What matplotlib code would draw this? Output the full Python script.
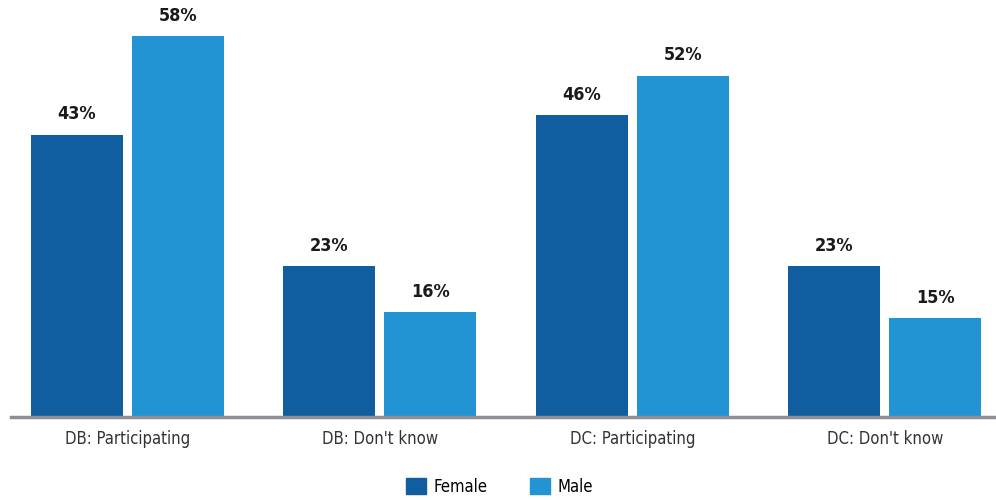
# plotting female vs male participation bars
import matplotlib.pyplot as plt; import numpy as np
from matplotlib.patches import Patch

# data
categories   = ["DB: Participating", "DB: Don't know", "DC: Participating", "DC: Don't know"]
female_vals  = [43, 23, 46, 23]
male_vals    = [58, 16, 52, 15]
series_names = ["Female", "Male"]

# styles
col_female = "#105DA0"
col_male   = "#2293D3"
plt.rcParams['font.family']  = ["DejaVu Sans"]
plt.rcParams['font.stretch'] = 'condensed'

fig = plt.figure(figsize=(9.96, 5.0), dpi=100)
ax  = fig.add_axes([0.011, 0.166, 0.989, 0.834])

x = np.arange(len(categories))
w = 0.364
b1 = ax.bar(x - 0.2, female_vals, w, color=col_female)
b2 = ax.bar(x + 0.2, male_vals,   w, color=col_male)

for bars, vals in ((b1, female_vals), (b2, male_vals)):
    for r, v in zip(bars, vals):
        ax.text(r.get_x() + r.get_width()/2, v + 1.7, f"{v}%",
                ha='center', va='bottom', fontsize=13, fontweight='bold',
                fontstretch='condensed', color='#1a1a1a')

ax.set_xlim(-0.46, 3.44)
ax.set_ylim(0, 63.5)
ax.set_xticks(x)
ax.set_xticklabels(categories, fontsize=12, color='#333333', fontstretch='condensed')
ax.tick_params(axis='x', length=0, pad=9)
ax.set_yticks([])
for s in ('top', 'right', 'left'):
    ax.spines[s].set_visible(False)
ax.spines['bottom'].set_color('#8C9096')
ax.spines['bottom'].set_linewidth(2.5)

handles = [Patch(color=col_female), Patch(color=col_male)]
fig.legend(handles, series_names, loc='center', bbox_to_anchor=(0.502, 0.027),
           ncol=2, frameon=False, prop={'size': 12, 'stretch': 'condensed'},
           handlelength=1.15, handleheight=1.15, columnspacing=2.55, handletextpad=0.5)

plt.savefig("out.png", dpi=100)
